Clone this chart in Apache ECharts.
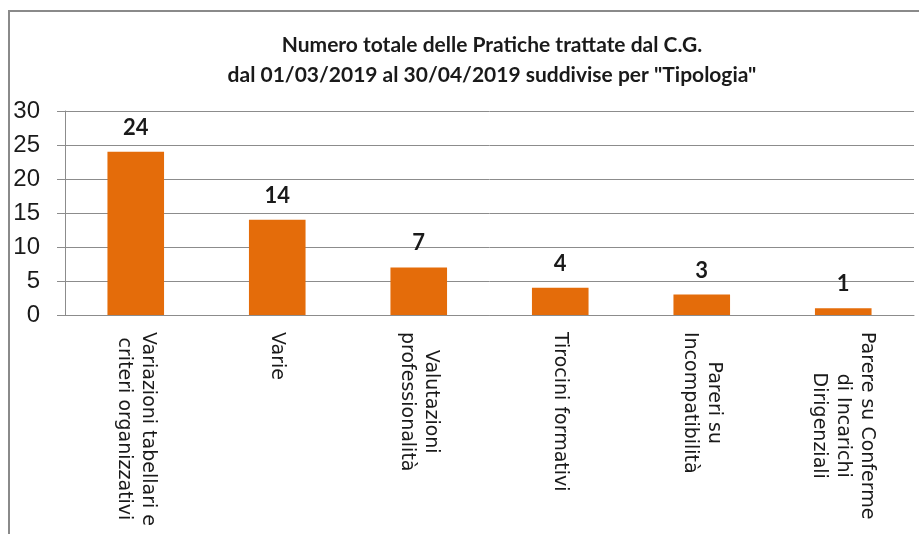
<!DOCTYPE html>
<html>
<head>
<meta charset="utf-8">
<script src="https://cdn.jsdelivr.net/npm/echarts@6/dist/echarts.min.js"></script>
<style>
  html, body { margin: 0; padding: 0; background: #fff; }
  #chart { width: 919px; height: 534px; }
</style>
</head>
<body>
<div id="chart"></div>
<script>
// categorie (righe separate da \n)
const categories = [
  'Variazioni tabellari e\ncriteri organizzativi',
  'Varie',
  'Valutazioni\nprofessionalità',
  'Tirocini formativi',
  'Pareri su\nIncompatibilità',
  'Parere su Conferme\ndi Incarichi\nDirigenziali'
]

// numero pratiche
const pratiche = [24, 14, 7, 4, 3, 1]

// tick dell'asse y
const yMin = 0
const yMax = 30
const yStep = 5

const titleLines = [
  'Numero totale delle Pratiche trattate dal C.G.',
  'dal 01/03/2019 al 30/04/2019 suddivise per "Tipologia"'
]

const labelFont = '"DejaVu Sans", sans-serif'

const myChart = echarts.init(document.querySelector('#chart'))

const option = {
  animation: false,
  backgroundColor: '#fff',
  // bordo esterno
  graphic: [{
    type: 'rect',
    shape: { x: 9, y: 11, width: 940, height: 560 },
    style: { fill: 'none', stroke: '#8a8a8a', lineWidth: 2 },
    silent: true
  }],
  title: {
    text: titleLines.join('\n'),
    left: 487,
    top: 25,
    textAlign: 'center',
    textStyle: {
      fontFamily: 'Lato',
      fontWeight: 'bold',
      fontSize: 21,
      lineHeight: 30,
      color: '#1a1a1a'
    }
  },
  grid: {
    left: 65,
    right: 5,
    top: 111,
    bottom: 219,
    containLabel: false
  },
  xAxis: {
    type: 'category',
    data: categories,
    axisLine: { lineStyle: { color: '#8c8c8c', width: 1 } },
    axisTick: { show: false },
    axisLabel: {
      interval: 0,
      rotate: -90,
      margin: 17,
      fontFamily: labelFont,
      fontSize: 19,
      color: '#1a1a1a',
      formatter: v => v.split('\n').map(s => '{c|' + s + '}').join('\n'),
      rich: {
        c: {
          align: 'center',
          fontFamily: labelFont,
          fontSize: 19,
          lineHeight: 24,
          color: '#1a1a1a'
        }
      }
    }
  },
  yAxis: {
    type: 'value',
    min: yMin,
    max: yMax,
    interval: yStep,
    axisLine: { show: true, lineStyle: { color: '#8c8c8c', width: 1 } },
    axisTick: { show: true, length: 8, lineStyle: { color: '#8c8c8c' } },
    splitLine: { lineStyle: { color: '#8c8c8c', width: 1 } },
    axisLabel: {
      margin: 25,
      fontFamily: 'Liberation Sans',
      fontSize: 24,
      color: '#1a1a1a'
    }
  },
  series: [{
    type: 'bar',
    data: pratiche,
    barWidth: '40%',
    itemStyle: { color: '#E46C0A' },
    label: {
      show: true,
      position: 'top',
      distance: 13,
      fontFamily: 'Lato',
      fontWeight: 'bold',
      fontSize: 22,
      color: '#1a1a1a'
    }
  }]
}

myChart.setOption(option)
</script>
</body>
</html>
